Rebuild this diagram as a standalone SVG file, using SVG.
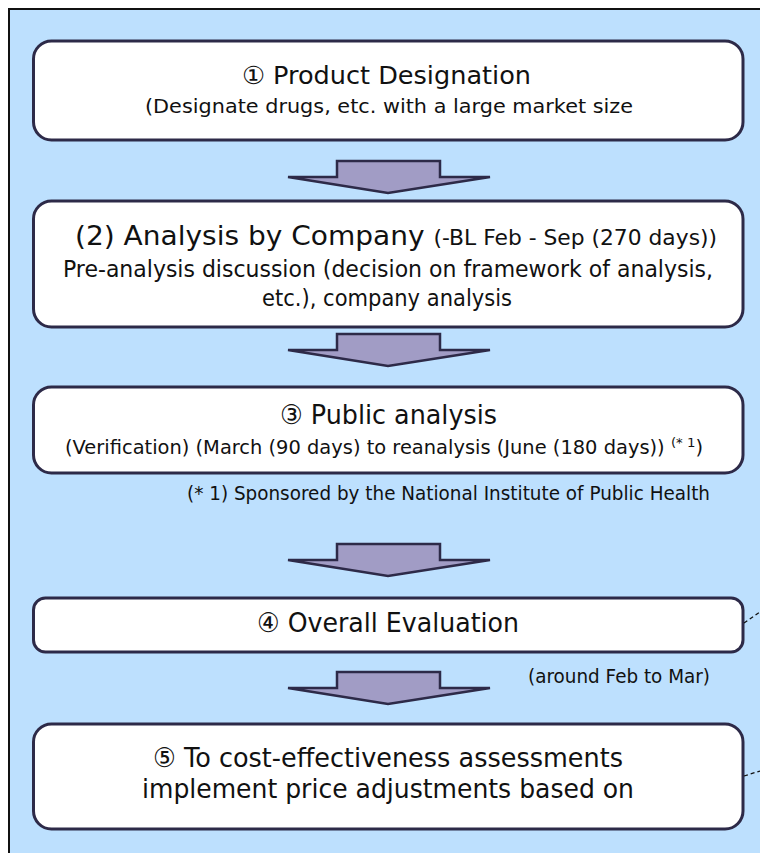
<svg xmlns="http://www.w3.org/2000/svg" width="760" height="853" viewBox="0 0 760 853">
  <defs>
    <style>
      .bg { fill: #bde0fe; }
      .frame { fill: none; stroke: #111; stroke-width: 2; }
      .box { fill: #ffffff; stroke: #2d2a48; stroke-width: 3; }
      .arrow { fill: #a19cc5; stroke: #2d2a48; stroke-width: 2.5; stroke-linejoin: miter; }
      .t { font-family: "DejaVu Sans", "Liberation Sans", sans-serif; fill: #111; text-anchor: middle; }
      .lead { fill: none; stroke: #111; stroke-width: 1.3; stroke-dasharray: 4 3; }
    </style>
    <path id="down" d="M -52 0 H 51 V 16 H 101 L -1 32 L -101 16 H -52 Z"/>
  </defs>

  <!-- panel background and frame (open to the right and bottom) -->
  <rect class="bg" x="9" y="9" width="760" height="860"/>
  <path class="frame" d="M 9 853 V 9 H 760"/>

  <!-- step boxes -->
  <g id="step1">
    <rect class="box" x="33.5" y="41" width="709.5" height="99" rx="18"/>
    <text class="t" x="386.5" y="84" font-size="25" textLength="289" lengthAdjust="spacingAndGlyphs">① Product Designation</text>
    <text class="t" x="389" y="113" font-size="19" textLength="488" lengthAdjust="spacingAndGlyphs">(Designate drugs, etc. with a large market size</text>
  </g>

  <g id="step2">
    <rect class="box" x="33.5" y="201" width="709.5" height="126" rx="18"/>
    <text class="t" x="396" y="245" font-size="27" textLength="642" lengthAdjust="spacingAndGlyphs">(2) Analysis by Company <tspan font-size="21">(-BL Feb - Sep (270 days))</tspan></text>
    <text class="t" x="388" y="277" font-size="23" textLength="650" lengthAdjust="spacingAndGlyphs">Pre-analysis discussion (decision on framework of analysis,</text>
    <text class="t" x="387" y="306" font-size="23" textLength="250" lengthAdjust="spacingAndGlyphs">etc.), company analysis</text>
  </g>

  <g id="step3">
    <rect class="box" x="33.5" y="387" width="709.5" height="86" rx="18"/>
    <text class="t" x="388.5" y="424" font-size="27" textLength="217" lengthAdjust="spacingAndGlyphs">③ Public analysis</text>
    <text class="t" x="384" y="454" font-size="19" textLength="638" lengthAdjust="spacingAndGlyphs">(Verification) (March (90 days) to reanalysis (June (180 days)) <tspan font-size="13" dy="-7">(* 1</tspan><tspan dy="7">)</tspan></text>
  </g>

  <text id="note1" class="t" x="448.5" y="500" font-size="19" textLength="523" lengthAdjust="spacingAndGlyphs">(* 1) Sponsored by the National Institute of Public Health</text>

  <g id="step4">
    <rect class="box" x="33.5" y="598" width="709.5" height="54" rx="12"/>
    <text class="t" x="388" y="632" font-size="27" textLength="262" lengthAdjust="spacingAndGlyphs">④ Overall Evaluation</text>
  </g>

  <text id="note2" class="t" x="619" y="683" font-size="19" textLength="182" lengthAdjust="spacingAndGlyphs">(around Feb to Mar)</text>

  <g id="step5">
    <rect class="box" x="33.5" y="724" width="709.5" height="105" rx="18"/>
    <text class="t" x="388" y="767" font-size="27" textLength="470" lengthAdjust="spacingAndGlyphs">⑤ To cost-effectiveness assessments</text>
    <text class="t" x="388" y="798" font-size="27" textLength="492" lengthAdjust="spacingAndGlyphs">implement price adjustments based on</text>
  </g>

  <!-- connectors: block arrows between steps, leader lines off the right edge -->
  <g id="connectors">
    <use href="#down" class="arrow" transform="translate(389 161)"/>
    <use href="#down" class="arrow" transform="translate(389 334)"/>
    <use href="#down" class="arrow" transform="translate(389 544)"/>
    <use href="#down" class="arrow" transform="translate(389 672)"/>
    <line class="lead" x1="744" y1="623" x2="760" y2="612"/>
    <line class="lead" x1="744" y1="776" x2="760" y2="771"/>
  </g>
</svg>
